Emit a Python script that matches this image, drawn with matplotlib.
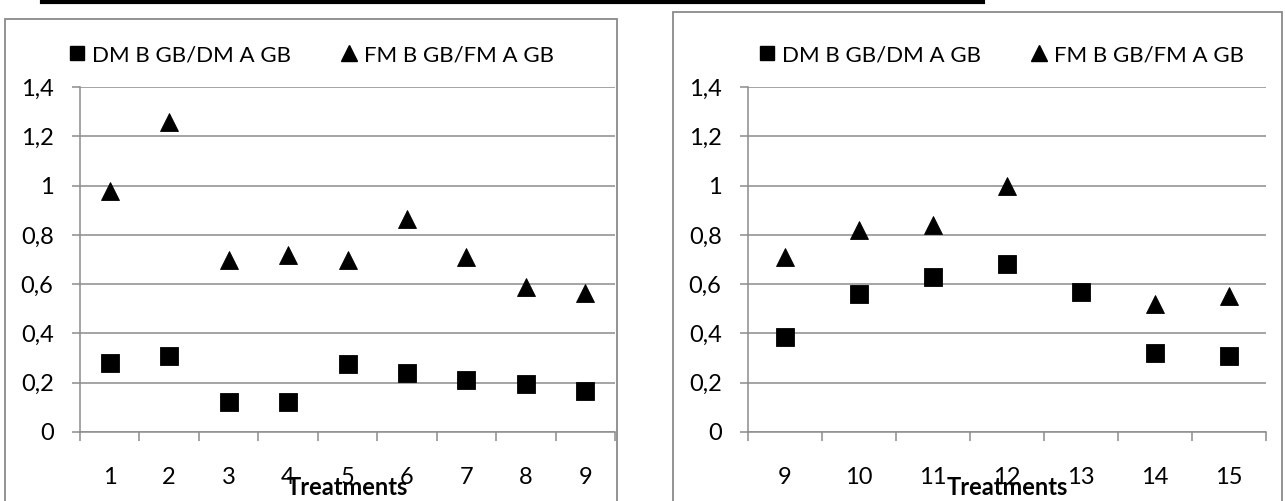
import numpy as np
import matplotlib.pyplot as plt
from matplotlib.patches import Rectangle
from matplotlib.lines import Line2D

plt.rcParams['font.family'] = ['Lato', 'DejaVu Sans']

# ----------------------------
# DATA
# ----------------------------
left_treatments = [1, 2, 3, 4, 5, 6, 7, 8, 9]
left_dm = [0.28, 0.31, 0.12, 0.12, 0.275, 0.24, 0.21, 0.195, 0.168]
left_fm = [0.98, 1.26, 0.70, 0.72, 0.70, 0.865, 0.71, 0.59, 0.565]

right_treatments = [9, 10, 11, 12, 13, 14, 15]
right_dm = [0.385, 0.56, 0.63, 0.68, 0.57, 0.32, 0.31]
right_fm = [0.71, 0.82, 0.84, 1.0, np.nan, 0.52, 0.55]

dm_label = "DM B GB/DM A GB"
fm_label = "FM B GB/FM A GB"
y_ticks = [0, 0.2, 0.4, 0.6, 0.8, 1.0, 1.2, 1.4]
y_tick_labels = ["0", "0,2", "0,4", "0,6", "0,8", "1", "1,2", "1,4"]

W, H = 1285, 501
GRID = "#8c8c8c"
FS = 16

fig = plt.figure(figsize=(W / 100, H / 100), dpi=100)


def px_box(x0, y0, x1, y1):
    # pixel box (top-left origin) -> figure fraction rect
    return [x0 / W, 1 - y1 / H, (x1 - x0) / W, (y1 - y0) / H]


def draw_panel(rect, border, treatments, dm, fm, legend_xy):
    # chart border (runs past the bottom of the image)
    bx0, by0, bx1 = border
    fig.patches.append(Rectangle((bx0 / W, -0.2), (bx1 - bx0) / W, 1 - by0 / H + 0.2,
                                 transform=fig.transFigure, fill=False,
                                 edgecolor="#8a8a8a", linewidth=1.3, clip_on=False))

    ax = fig.add_axes(rect)
    n = len(treatments)
    x = np.arange(1, n + 1)

    ax.plot(x, dm, linestyle="none", marker="s", markersize=13.5, color="black",
            markeredgewidth=0.6, label=dm_label, zorder=3)
    ax.plot(x, fm, linestyle="none", marker="^", markersize=13.5, color="black",
            markeredgewidth=0.6, label=fm_label, zorder=4)

    ax.set_xlim(0.5, n + 0.5)
    ax.set_ylim(0, 1.4)

    ax.set_yticks(y_ticks)
    ax.set_yticklabels(y_tick_labels)
    ax.set_xticks(np.arange(0.5, n + 1, 1.0))
    ax.set_xticklabels([])
    ax.set_xticks(x, minor=True)
    ax.set_xticklabels([str(t) for t in treatments], minor=True)

    ax.grid(True, axis="y", color=GRID, linewidth=1.1)
    ax.set_axisbelow(True)
    for s in ["top", "right"]:
        ax.spines[s].set_visible(False)
    for s in ["left", "bottom"]:
        ax.spines[s].set_color(GRID)
        ax.spines[s].set_linewidth(1.1)

    ax.tick_params(axis="y", length=6, width=1.1, color=GRID, pad=13,
                   labelsize=17)
    ax.tick_params(axis="x", which="major", length=6.5, width=1.1, color=GRID)
    ax.tick_params(axis="x", which="minor", length=0, pad=25, labelsize=17)

    ax.text(0.5, -0.183, "Treatments", transform=ax.transAxes, ha="center",
            va="baseline", fontsize=17, fontweight="bold")

    handles = [
        Line2D([], [], linestyle="none", marker="s", markersize=10.5, color="black"),
        Line2D([], [], linestyle="none", marker="^", markersize=11, color="black"),
    ]
    lx, ly = legend_xy
    fig.legend(handles, [dm_label, fm_label], loc="center",
               bbox_to_anchor=(lx / W, 1 - ly / H), ncol=2, frameon=False,
               fontsize=FS, handlelength=0.8, handletextpad=0.3,
               columnspacing=2.2, borderpad=0)
    return ax


# ----------------------------
# PANELS
# ----------------------------
draw_panel(px_box(80, 87, 615, 432), (5, 19, 617),
           left_treatments, left_dm, left_fm, (311, 55))
draw_panel(px_box(748, 87, 1266, 432), (673, 12, 1282),
           right_treatments, right_dm, right_fm, (1001, 55))

# underline of the cut-off caption above the charts
fig.add_artist(Line2D([42 / W, 983 / W], [1 - 1.8 / H, 1 - 1.8 / H],
                      transform=fig.transFigure, color="black", linewidth=3))

fig.savefig("out.png", dpi=100)
